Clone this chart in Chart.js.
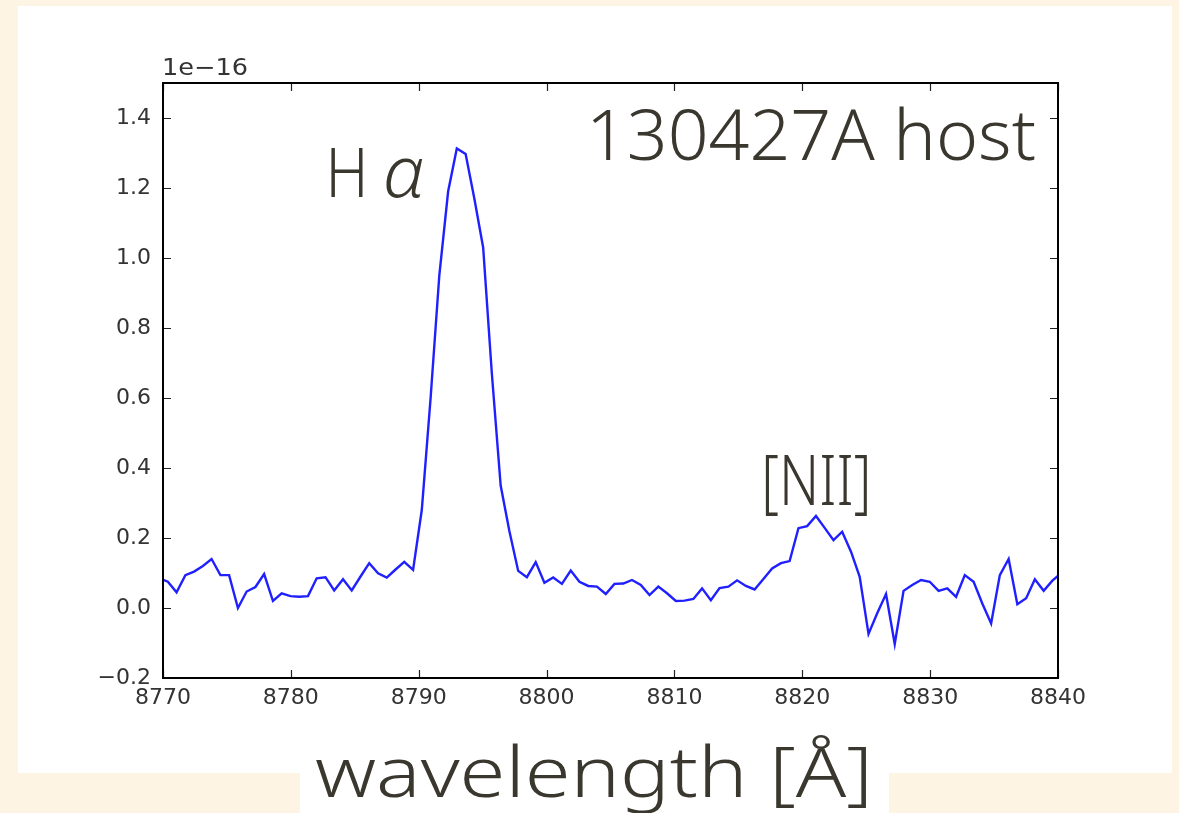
<!DOCTYPE html>
<html><head><meta charset="utf-8">
<script src="https://cdn.jsdelivr.net/npm/chart.js@4.4.1/dist/chart.umd.min.js"></script>
<style>html,body{margin:0;padding:0;background:#fef4e3;}canvas{display:block}</style>
</head><body>
<canvas id="c" width="1179" height="813"></canvas>
<script>
// wavelength [Å]
const wavelengths = [
 8769.69, 8770.38, 8771.06, 8771.75, 8772.43, 8773.12, 8773.80, 8774.49, 8775.17, 8775.86,
 8776.54, 8777.23, 8777.91, 8778.60, 8779.28, 8779.97, 8780.65, 8781.34, 8782.02, 8782.71,
 8783.39, 8784.08, 8784.76, 8785.45, 8786.13, 8786.82, 8787.50, 8788.19, 8788.87, 8789.56,
 8790.24, 8790.93, 8791.61, 8792.30, 8792.98, 8793.67, 8794.35, 8795.04, 8795.72, 8796.41,
 8797.09, 8797.78, 8798.46, 8799.15, 8799.83, 8800.52, 8801.20, 8801.89, 8802.57, 8803.26,
 8803.94, 8804.63, 8805.31, 8806.00, 8806.68, 8807.37, 8808.05, 8808.74, 8809.42, 8810.11,
 8810.79, 8811.48, 8812.16, 8812.85, 8813.53, 8814.22, 8814.90, 8815.59, 8816.27, 8816.96,
 8817.64, 8818.33, 8819.01, 8819.70, 8820.38, 8821.07, 8821.75, 8822.44, 8823.12, 8823.81,
 8824.49, 8825.18, 8825.86, 8826.55, 8827.23, 8827.92, 8828.60, 8829.29, 8829.97, 8830.66,
 8831.34, 8832.03, 8832.71, 8833.40, 8834.08, 8834.77, 8835.45, 8836.14, 8836.82, 8837.51,
 8838.19, 8838.88, 8839.56, 8840.25
];
// flux [1e-16]
const flux = [
 0.085, 0.075, 0.045, 0.094, 0.104, 0.120, 0.140, 0.094, 0.094, 0.000,
 0.047, 0.060, 0.097, 0.020, 0.042, 0.034, 0.032, 0.034, 0.085, 0.088,
 0.050, 0.082, 0.050, 0.090, 0.128, 0.099, 0.087, 0.110, 0.132, 0.109,
 0.280, 0.600, 0.950, 1.190, 1.313, 1.297, 1.170, 1.030, 0.670, 0.350,
 0.220, 0.106, 0.088, 0.131, 0.072, 0.087, 0.069, 0.107, 0.075, 0.063,
 0.061, 0.040, 0.069, 0.070, 0.080, 0.066, 0.037, 0.061, 0.042, 0.020,
 0.021, 0.026, 0.056, 0.022, 0.057, 0.061, 0.079, 0.063, 0.053, 0.083,
 0.113, 0.128, 0.134, 0.228, 0.234, 0.263, 0.229, 0.194, 0.218, 0.161,
 0.089, -0.074, -0.015, 0.040, -0.103, 0.049, 0.066, 0.080, 0.075, 0.049,
 0.056, 0.032, 0.094, 0.075, 0.013, -0.044, 0.094, 0.140, 0.011, 0.028,
 0.082, 0.049, 0.078, 0.100
];
const xTicks = [8770, 8780, 8790, 8800, 8810, 8820, 8830, 8840];
const yTicks = [-0.2, 0.0, 0.2, 0.4, 0.6, 0.8, 1.0, 1.2, 1.4];
const xRange = [8770, 8840];
const yRange = [-0.2, 1.5];
const offsetText = '1e\u221216';
const titleText = '130427A host';
const lineLabels = [
  {text: 'H', x: 8782.7, y: 1.175},
  {text: '\u03b1', x: 8787.2, y: 1.175, italic: true},
  {text: '[NII]', x: 8816.8, y: 0.295}
];
const xLabel = 'wavelength [\u00c5]';

const INK = '#3a372f';
const LABEL_FONT = '300 70px "Noto Sans"';

function fitText(ctx, text, x, y, font, targetW) {
  ctx.save();
  ctx.font = font;
  const w = ctx.measureText(text).width;
  ctx.translate(x, y);
  ctx.scale(targetW / w, 1);
  ctx.fillText(text, 0, 0);
  ctx.restore();
}

const bgPlugin = {
  id: 'bg',
  beforeDraw(chart) {
    const ctx = chart.ctx;
    ctx.save();
    ctx.fillStyle = '#fef4e3';
    ctx.fillRect(0, 0, chart.width, chart.height);
    ctx.fillStyle = '#ffffff';
    ctx.fillRect(18, 6, 1154, 767);
    ctx.fillRect(300, 770, 589, 43);
    ctx.restore();
  }
};

const framePlugin = {
  id: 'frame',
  afterDatasetsDraw(chart) {
    const ctx = chart.ctx, a = chart.chartArea;
    const xs = chart.scales.x, ys = chart.scales.y;
    ctx.save();
    ctx.strokeStyle = '#222';
    ctx.lineWidth = 1.2;
    ctx.beginPath();
    xTicks.forEach(v => {
      const p = Math.round(xs.getPixelForValue(v)) + 0.5;
      ctx.moveTo(p, a.bottom); ctx.lineTo(p, a.bottom - 8);
      ctx.moveTo(p, a.top); ctx.lineTo(p, a.top + 8);
    });
    yTicks.forEach(v => {
      const p = Math.round(ys.getPixelForValue(v)) + 0.5;
      ctx.moveTo(a.left, p); ctx.lineTo(a.left + 8, p);
      ctx.moveTo(a.right, p); ctx.lineTo(a.right - 8, p);
    });
    ctx.stroke();
    ctx.strokeStyle = '#000';
    ctx.lineWidth = 2;
    ctx.strokeRect(a.left, a.top, a.right - a.left, a.bottom - a.top);
    ctx.restore();
  },
  afterDraw(chart) {
    const ctx = chart.ctx, a = chart.chartArea;
    const xs = chart.scales.x, ys = chart.scales.y;
    ctx.save();
    ctx.textBaseline = 'alphabetic';
    ctx.textAlign = 'left';
    ctx.fillStyle = '#333';
    fitText(ctx, offsetText, a.left - 1, a.top - 8, '23px "DejaVu Sans"', 86);
    ctx.fillStyle = INK;
    // title in the top-right corner of the axes
    fitText(ctx, titleText, a.right - 472, a.top + 77, LABEL_FONT, 450);
    lineLabels.forEach(l => {
      const px = xs.getPixelForValue(l.x), py = ys.getPixelForValue(l.y);
      if (l.text === 'H') fitText(ctx, l.text, px, py, '300 68px "Noto Sans"', 43);
      else if (l.italic) fitText(ctx, l.text, px, py, 'italic 300 72px "Noto Sans"', 42);
      else fitText(ctx, l.text, px, py, '300 70px "Noto Sans"', 110);
    });
    fitText(ctx, xLabel, 315, 797, LABEL_FONT, 558);
    ctx.restore();
  }
};

new Chart(document.getElementById('c'), {
  type: 'line',
  data: {
    datasets: [{
      data: wavelengths.map((w, i) => ({x: w, y: flux[i]})),
      borderColor: '#2020ff',
      borderWidth: 2.4,
      pointRadius: 0,
      tension: 0,
      fill: false
    }]
  },
  options: {
    responsive: false,
    devicePixelRatio: 1,
    animation: false,
    layout: {padding: {left: 0, top: 83, right: 121, bottom: 0}},
    plugins: {legend: {display: false}, tooltip: {enabled: false}},
    scales: {
      x: {
        type: 'linear', min: xRange[0], max: xRange[1],
        grid: {display: false, drawTicks: false},
        border: {display: false},
        afterBuildTicks: s => { s.ticks = xTicks.map(v => ({value: v})); },
        afterFit: s => { s.height = 135; },
        ticks: {
          padding: 7, maxRotation: 0, autoSkip: false,
          color: '#333', font: {family: 'DejaVu Sans', size: 22},
          callback: v => String(v)
        }
      },
      y: {
        type: 'linear', min: yRange[0], max: yRange[1],
        grid: {display: false, drawTicks: false},
        border: {display: false},
        afterBuildTicks: s => { s.ticks = yTicks.map(v => ({value: v})); },
        afterFit: s => { s.width = 163; },
        ticks: {
          padding: 12, autoSkip: false,
          color: '#333', font: {family: 'DejaVu Sans', size: 22},
          callback: v => (v < 0 ? '\u2212' + Math.abs(v).toFixed(1) : Math.abs(v).toFixed(1))
        }
      }
    }
  },
  plugins: [bgPlugin, framePlugin]
});
</script>
</body></html>
